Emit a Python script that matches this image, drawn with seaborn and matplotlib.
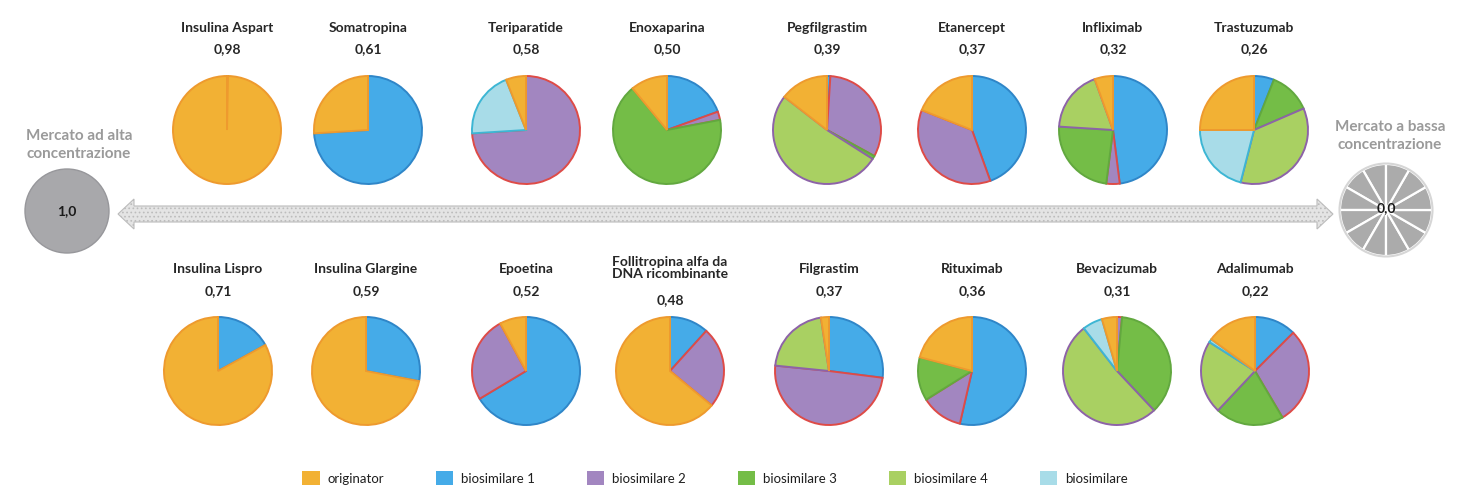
import matplotlib
matplotlib.use("Agg")
import matplotlib.pyplot as plt
import seaborn as sns
from matplotlib.patches import Circle, Polygon, Patch

# ---- data -------------------------------------------------------------
# share order inside every pie (clockwise from 12 o'clock)
categories = ["biosimilare 1", "biosimilare 2", "biosimilare 3",
              "biosimilare 4", "biosimilare", "originator"]
legend_order = ["originator", "biosimilare 1", "biosimilare 2",
                "biosimilare 3", "biosimilare 4", "biosimilare"]

top_products = ["Insulina Aspart", "Somatropina", "Teriparatide", "Enoxaparina",
                "Pegfilgrastim", "Etanercept", "Infliximab", "Trastuzumab"]
top_index = [0.98, 0.61, 0.58, 0.50, 0.39, 0.37, 0.32, 0.26]
top_shares = [
    [0.3, 0, 0, 0, 0, 99.7],
    [74, 0, 0, 0, 0, 26],
    [0, 74, 0, 0, 20, 6],
    [19.5, 2.5, 67, 0, 0, 11],
    [1, 32, 1, 51.5, 0, 14.5],
    [44.5, 36.5, 0, 0, 0, 19],
    [48, 4, 24, 18.5, 0, 5.5],
    [6, 0, 12.5, 35.5, 21, 25],
]

bottom_products = ["Insulina Lispro", "Insulina Glargine", "Epoetina",
                   "Follitropina alfa da\nDNA ricombinante", "Filgrastim",
                   "Rituximab", "Bevacizumab", "Adalimumab"]
bottom_index = [0.71, 0.59, 0.52, 0.48, 0.37, 0.36, 0.31, 0.22]
bottom_shares = [
    [17, 0, 0, 0, 0, 83],
    [28, 0, 0, 0, 0, 72],
    [66.4, 25.7, 0, 0, 0, 7.9],
    [11.7, 24.3, 0, 0, 0, 64],
    [27, 49.6, 0, 21, 0, 2.4],
    [53.6, 12.5, 13, 0, 0, 20.9],
    [0, 1.5, 36.5, 51.5, 6, 4.5],
    [12.5, 29, 20.5, 22, 1, 15],
]

high_label, high_value = "Mercato ad alta\nconcentrazione", 1.0
low_label, low_value = "Mercato a bassa\nconcentrazione", 0.0
low_segments = 12

# ---- style ------------------------------------------------------------
sns.set_theme(style="white")
plt.rcParams["font.family"] = ["Lato", "DejaVu Sans"]
plt.rcParams["hatch.linewidth"] = 0.7

fill = dict(zip(categories, sns.color_palette(
    ["#45ABE8", "#A286C0", "#74BD47", "#A9D062", "#A8DCE8", "#F2B134"])))
edge = dict(zip(categories, sns.color_palette(
    ["#2F86C8", "#DE4B47", "#62A83F", "#8D63A8", "#3DB6D4", "#EE9A2E"])))

W, H = 1458, 489
fig = plt.figure(figsize=(W / 100, H / 100), dpi=100)
ax = fig.add_axes([0, 0, 1, 1])


def fy(y):
    return H - y


def fmt(v, d=2):
    return f"{v:.{d}f}".replace(".", ",")


def draw_pie(shares, cx, cy, r):
    cats = [c for c, s in zip(categories, shares) if s > 0]
    vals = [s for s in shares if s > 0]
    wedges, _ = ax.pie(vals, colors=[fill[c] for c in cats], startangle=90,
                       counterclock=False, center=(cx, fy(cy)), radius=r,
                       wedgeprops=dict(linewidth=1.4))
    for w, c in zip(wedges, cats):
        w.set_edgecolor(edge[c])


title_kw = dict(ha="center", va="center", fontsize=10, fontweight="bold",
                color="#262626")

# top row
top_x = [227, 368, 526, 667, 827, 972, 1113, 1254]
for name, idx, shares, x in zip(top_products, top_index, top_shares, top_x):
    draw_pie(shares, x, 131, 54)
    ax.text(x, fy(28), name, **title_kw)
    ax.text(x, fy(49), fmt(idx), **title_kw)

# bottom row
bottom_x = [218, 366, 526, 670, 829, 972, 1117, 1255]
for name, idx, shares, x in zip(bottom_products, bottom_index, bottom_shares, bottom_x):
    draw_pie(shares, x, 372, 54)
    if "\n" in name:
        ax.text(x, fy(268), name, linespacing=1.05, **title_kw)
        ax.text(x, fy(300), fmt(idx), **title_kw)
    else:
        ax.text(x, fy(269), name, **title_kw)
        ax.text(x, fy(291), fmt(idx), **title_kw)

# concentration axis: double arrow
yc, x0, x1 = 215, 118, 1333
hl, hh, sh = 16, 15, 8
arrow = Polygon([(x0, fy(yc)), (x0 + hl, fy(yc - hh)), (x0 + hl, fy(yc - sh)),
                 (x1 - hl, fy(yc - sh)), (x1 - hl, fy(yc - hh)), (x1, fy(yc)),
                 (x1 - hl, fy(yc + hh)), (x1 - hl, fy(yc + sh)),
                 (x0 + hl, fy(yc + sh)), (x0 + hl, fy(yc + hh))],
                closed=True, facecolor="#e4e4e4", edgecolor="#bcbcbc",
                hatch="....", linewidth=0.8)
ax.add_patch(arrow)

# high concentration end
ax.add_patch(Circle((67, fy(212)), 42, facecolor="#A8A8AB",
                    edgecolor="#97979b", linewidth=1))
ax.text(67, fy(211), fmt(high_value, 1), ha="center", va="center",
        fontsize=10, fontweight="bold", color="#1a1a1a")
ax.text(79, fy(145), high_label, ha="center", va="center", fontsize=11,
        fontweight="bold", color="#9a9a9a", linespacing=1.3)

# low concentration end
ax.pie([1] * low_segments, colors=["#ABABAB"] * low_segments, startangle=90,
       center=(1386, fy(211)), radius=46,
       wedgeprops=dict(edgecolor="white", linewidth=1.6))
ax.add_patch(Circle((1386, fy(211)), 46.5, fill=False, edgecolor="#d6d6d6",
                    linewidth=1.5))
ax.text(1386, fy(208), fmt(low_value, 1), ha="center", va="center",
        fontsize=10, fontweight="bold", color="#1a1a1a")
ax.text(1390, fy(136), low_label, ha="center", va="center", fontsize=11,
        fontweight="bold", color="#9a9a9a", linespacing=1.3)

ax.set_xlim(0, W)
ax.set_ylim(0, H)
ax.set_aspect("auto")
ax.axis("off")

handles = [Patch(facecolor=fill[c], edgecolor="none", label=c) for c in legend_order]
fig.legend(handles=handles, loc="center", bbox_to_anchor=(715 / W, 1 - 479 / H),
           ncol=6, frameon=False, fontsize=9.5, handlelength=1.35,
           handleheight=1.35, handletextpad=0.6, columnspacing=3.9,
           labelcolor="#1f1f1f")

fig.savefig("out.png", dpi=100)
